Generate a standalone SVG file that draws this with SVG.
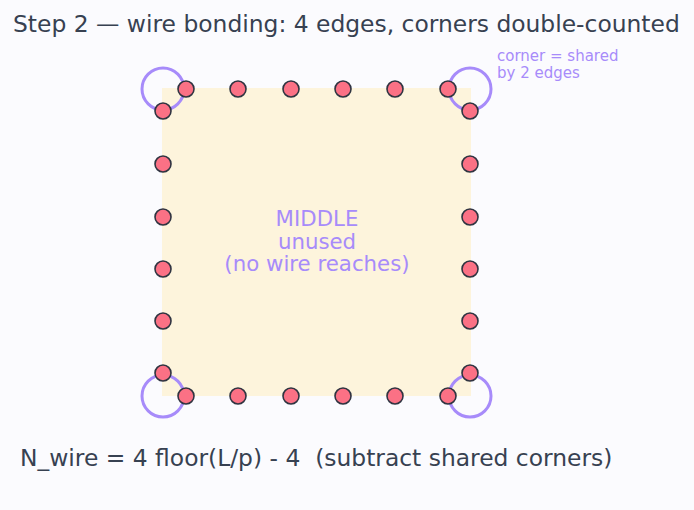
<svg xmlns="http://www.w3.org/2000/svg" width="694" height="510" viewBox="0 0 694 510">
<style>
text{font-family:"DejaVu Sans",sans-serif}
.t{fill:#374151}
.p{fill:#a78bfa}
.d{fill:#fb7185;stroke:#2f3441;stroke-width:1.6}
.c{fill:none;stroke:#a78bfa;stroke-width:3}
</style>
<rect width="694" height="510" fill="#fbfbfe"/>
<text class="t" x="13" y="32" font-size="23.4">Step 2 — wire bonding: 4 edges, corners double-counted</text>
<g id="die">
<rect x="162" y="88" width="309" height="308" fill="#fdf4dc"/>
<text class="p" x="317" y="226" font-size="21.3" text-anchor="middle">MIDDLE</text>
<text class="p" x="317" y="249" font-size="21.3" text-anchor="middle">unused</text>
<text class="p" x="317" y="271" font-size="21.3" text-anchor="middle">(no wire reaches)</text>
</g>
<g id="corners">
<circle class="c" cx="163" cy="89" r="21"/>
<circle class="c" cx="470" cy="89" r="21"/>
<circle class="c" cx="163" cy="396" r="21"/>
<circle class="c" cx="470" cy="396" r="21"/>
</g>
<g id="pads">
<circle class="d" cx="186" cy="89" r="8"/><circle class="d" cx="238" cy="89" r="8"/><circle class="d" cx="291" cy="89" r="8"/><circle class="d" cx="343" cy="89" r="8"/><circle class="d" cx="395" cy="89" r="8"/><circle class="d" cx="448" cy="89" r="8"/>
<circle class="d" cx="186" cy="396" r="8"/><circle class="d" cx="238" cy="396" r="8"/><circle class="d" cx="291" cy="396" r="8"/><circle class="d" cx="343" cy="396" r="8"/><circle class="d" cx="395" cy="396" r="8"/><circle class="d" cx="448" cy="396" r="8"/>
<circle class="d" cx="163" cy="111" r="8"/><circle class="d" cx="163" cy="164" r="8"/><circle class="d" cx="163" cy="217" r="8"/><circle class="d" cx="163" cy="269" r="8"/><circle class="d" cx="163" cy="321" r="8"/><circle class="d" cx="163" cy="373" r="8"/>
<circle class="d" cx="470" cy="111" r="8"/><circle class="d" cx="470" cy="164" r="8"/><circle class="d" cx="470" cy="217" r="8"/><circle class="d" cx="470" cy="269" r="8"/><circle class="d" cx="470" cy="321" r="8"/><circle class="d" cx="470" cy="373" r="8"/>
</g>
<g id="note">
<text class="p" x="497" y="61" font-size="15">corner = shared</text>
<text class="p" x="497" y="78" font-size="15">by 2 edges</text>
</g>
<g id="connectors"/>
<text class="t" x="20" y="466" font-size="23.4" xml:space="preserve">N_wire = 4 floor(L/p) - 4  (subtract shared corners)</text>
</svg>
